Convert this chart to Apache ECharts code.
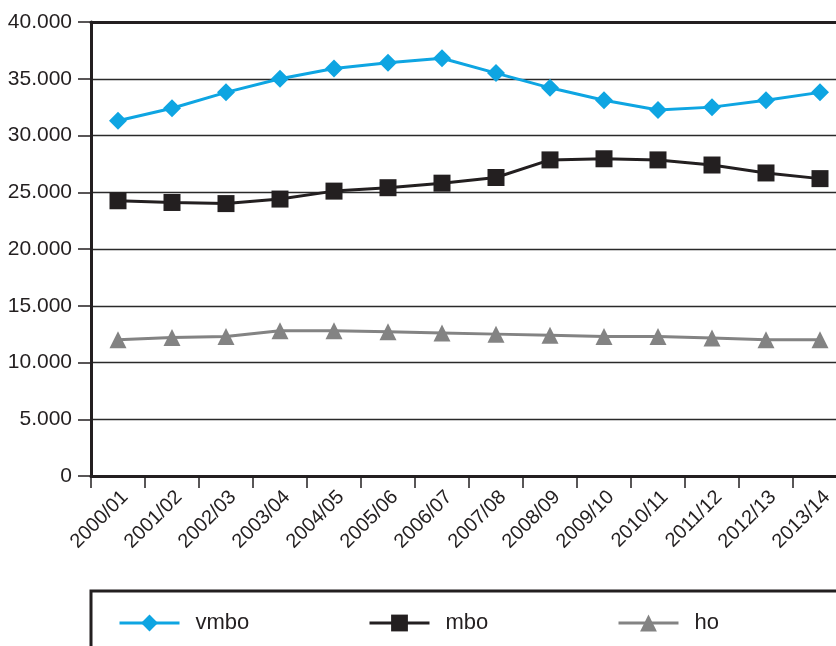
<!DOCTYPE html>
<html><head><meta charset="utf-8">
<script src="https://cdn.jsdelivr.net/npm/echarts@6/dist/echarts.min.js"></script>
<style>html,body{margin:0;padding:0;background:#fff;overflow:hidden}#c{width:900px;height:646px}</style>
</head><body><div id="c"></div>
<script>
var categories = ['2000/01','2001/02','2002/03','2003/04','2004/05','2005/06','2006/07','2007/08','2008/09','2009/10','2010/11','2011/12','2012/13','2013/14'];
var vmbo = [31300, 32400, 33800, 35000, 35900, 36400, 36800, 35500, 34200, 33100, 32250, 32500, 33100, 33800];
var mbo  = [24250, 24100, 24000, 24400, 25100, 25400, 25800, 26300, 27850, 27950, 27850, 27400, 26700, 26200];
var ho   = [12000, 12200, 12300, 12800, 12800, 12700, 12600, 12500, 12400, 12300, 12300, 12150, 12000, 12000];
var yTicks = [0, 5000, 10000, 15000, 20000, 25000, 30000, 35000, 40000];

var FONT = 'Liberation Sans, Arial, sans-serif';
var TXT = '#231f20';
var chart = echarts.init(document.getElementById('c'));
function fmt(v){ return String(v).replace(/\B(?=(\d{3})+(?!\d))/g, '.'); }
function mkLegend(name, left){
  return {data:[name], left:left, top:607, itemWidth:60, itemHeight:21, itemGap:0,
    lineStyle:{width:3},
    textStyle:{fontFamily:FONT, fontSize:22, color:TXT, padding:[0,0,0,11]}};
}
chart.setOption({
  animation:false,
  legend:[mkLegend('vmbo',113), mkLegend('mbo',363), mkLegend('ho',612)],
  grid:{left:91, top:22, width:756, height:454},
  xAxis:[{
    type:'category', data:categories, boundaryGap:true,
    axisLine:{lineStyle:{color:TXT, width:3}},
    axisTick:{show:true, length:12, lineStyle:{color:TXT, width:1.5}},
    axisLabel:{rotate:45, margin:11, verticalAlign:'top', fontFamily:FONT, fontSize:20, color:TXT, interval:0},
    splitLine:{show:false}
  },{
    type:'category', data:categories, position:'top',
    axisLine:{lineStyle:{color:TXT, width:3}},
    axisTick:{show:false}, axisLabel:{show:false}
  }],
  yAxis:{
    type:'value', min:0, max:40000, interval:5000,
    axisLine:{show:true, lineStyle:{color:TXT, width:3}},
    axisTick:{show:true, length:13, lineStyle:{color:TXT, width:1.5}},
    axisLabel:{margin:19, fontFamily:FONT, fontSize:21, color:TXT, formatter:function(v){return fmt(v);}},
    splitLine:{show:true, lineStyle:{color:'#2a2a2a', width:1.3}}
  },
  graphic:[{type:'rect', shape:{x:91, y:591, width:850, height:100},
    style:{fill:'none', stroke:TXT, lineWidth:3}, z:-1}],
  series:[
    {name:'vmbo', type:'line', data:vmbo, symbol:'diamond', symbolSize:18,
      lineStyle:{color:'#0ea5e2', width:3}, itemStyle:{color:'#0ea5e2'}},
    {name:'mbo', type:'line', data:mbo, symbol:'rect', symbolSize:17,
      lineStyle:{color:TXT, width:3}, itemStyle:{color:TXT}},
    {name:'ho', type:'line', data:ho, symbol:'triangle', symbolSize:17,
      lineStyle:{color:'#838383', width:3}, itemStyle:{color:'#838383'}}
  ]
});
</script></body></html>
